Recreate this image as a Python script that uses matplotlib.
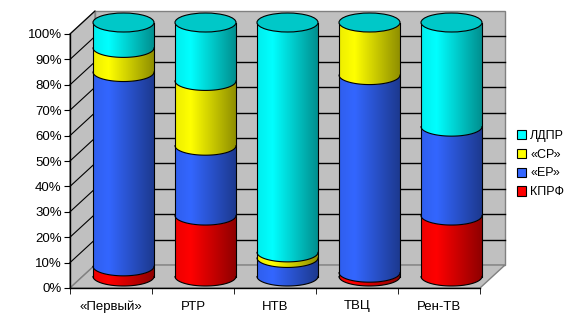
import numpy as np
import matplotlib
matplotlib.use("Agg")
import matplotlib.pyplot as plt
from matplotlib.patches import Polygon, Ellipse, Patch, PathPatch
from matplotlib.path import Path
from matplotlib.colors import to_rgb

plt.rcParams['font.family'] = ['Liberation Sans', 'DejaVu Sans']

channels = ['«Первый»', 'РТР', 'НТВ', 'ТВЦ', 'Рен-ТВ']
kprf = [4, 24, 0, 1.5, 24]
er = [76.5, 27.5, 7.3, 77.8, 35]
sr = [9.5, 25.5, 2.2, 20.7, 0]
ldpr = [10, 23, 90.5, 0, 41]

series = [kprf, er, sr, ldpr]
names = ['КПРФ', '«ЕР»', '«СР»', 'ЛДПР']
colors = ['#FF0000', '#3366FF', '#FFFF00', '#00FFFF']
cap_color = '#00C8C8'

fig = plt.figure(figsize=(5.76, 3.25), dpi=100)
ax = fig.add_axes([70/576, 37/325, 410/576, 254/325])
ax.set_xlim(0, 5)
ax.set_ylim(0, 100)

# 3d depth offset (data units)
dx, dy = 25/82, 23/2.54
a, b = 0.372, 3.74  # cylinder half width / ellipse half height

# walls
wall = '#C0C0C0'
edge = '#808080'
ax.add_patch(Polygon([(dx, dy), (5+dx, dy), (5+dx, 100+dy), (dx, 100+dy)],
                     facecolor=wall, edgecolor=edge, lw=1, clip_on=False, zorder=0))
ax.add_patch(Polygon([(0, 0), (dx, dy), (dx, 100+dy), (0, 100)],
                     facecolor=wall, edgecolor=edge, lw=1, clip_on=False, zorder=0))
ax.add_patch(Polygon([(0, 0), (5, 0), (5+dx, dy), (dx, dy)],
                     facecolor=wall, edgecolor=edge, lw=1, clip_on=False, zorder=0))
for v in range(10, 100, 10):
    ax.plot([dx, 5+dx], [v+dy, v+dy], color='black', lw=1, clip_on=False, zorder=0.5)
for v in range(10, 101, 10):
    ax.plot([0, dx], [v, v+dy], color='black', lw=0.8, clip_on=False, zorder=0.5)


def lower_arc(cx, yc, reverse=False):
    t = np.linspace(np.pi, 2*np.pi, 60)
    if reverse:
        t = t[::-1]
    return np.column_stack([cx + a*np.cos(t), yc + b*np.sin(t)])


def shade(col):
    base = np.array(to_rgb(col))
    t = np.linspace(0, 1, 256)
    f = np.where(t < 0.25, 0.93 + 0.07*t/0.25, 1.0 - 0.45*(t-0.25)/0.75)
    return (base[None, :]*f[:, None])[None, :, :]


for i in range(len(channels)):
    cx = i + 0.5 + dx/2
    base = dy/2
    bottom = 0
    for s, col in zip(series, colors):
        v = s[i]
        if v <= 0:
            continue
        y0 = base + bottom
        y1 = y0 + v
        verts = np.vstack([lower_arc(cx, y0), lower_arc(cx, y1, reverse=True)])
        clip = PathPatch(Path(verts, closed=False), transform=ax.transData)
        im = ax.imshow(shade(col), extent=[cx-a, cx+a, y0-b, y1], aspect='auto',
                       interpolation='bilinear', zorder=2)
        im.set_clip_path(clip)
        im.set_clip_box(fig.bbox)
        arc = lower_arc(cx, y0)
        ax.plot(arc[:, 0], arc[:, 1], color='black', lw=0.8, clip_on=False, zorder=3)
        bottom += v
    top = base + bottom
    ax.plot([cx-a, cx-a], [base, top], color='black', lw=0.8, clip_on=False, zorder=3)
    ax.plot([cx+a, cx+a], [base, top], color='black', lw=0.8, clip_on=False, zorder=3)
    ax.add_patch(Ellipse((cx, top), 2*a, 2*b, facecolor=cap_color, edgecolor='black',
                         lw=0.8, clip_on=False, zorder=4))
    ax.set_xlim(0, 5)
    ax.set_ylim(0, 100)

# axes
for sp in ['top', 'right']:
    ax.spines[sp].set_visible(False)
ax.spines['left'].set_linewidth(1)
ax.spines['bottom'].set_linewidth(1)
ax.set_yticks(range(0, 101, 10))
ax.set_yticklabels(['%d%%' % v for v in range(0, 101, 10)], fontsize=9.5)
ax.set_xticks(np.arange(5) + 0.5)
ax.set_xticklabels(channels, fontsize=9.5)
ax.set_xticks(range(6), minor=True)
ax.tick_params(axis='x', which='major', length=0, pad=9)
ax.tick_params(axis='x', which='minor', length=4, direction='out')
ax.tick_params(axis='y', length=4, direction='out', pad=2)

handles = [Patch(facecolor=c, edgecolor='black', lw=0.8) for c in colors[::-1]]
fig.legend(handles, names[::-1], loc='center left', bbox_to_anchor=(517/576, 1-164/325),
           frameon=False, fontsize=9, handlelength=0.75, handleheight=0.75,
           handletextpad=0.3, labelspacing=0.55, borderpad=0, borderaxespad=0)

fig.savefig('out.png', dpi=100)
